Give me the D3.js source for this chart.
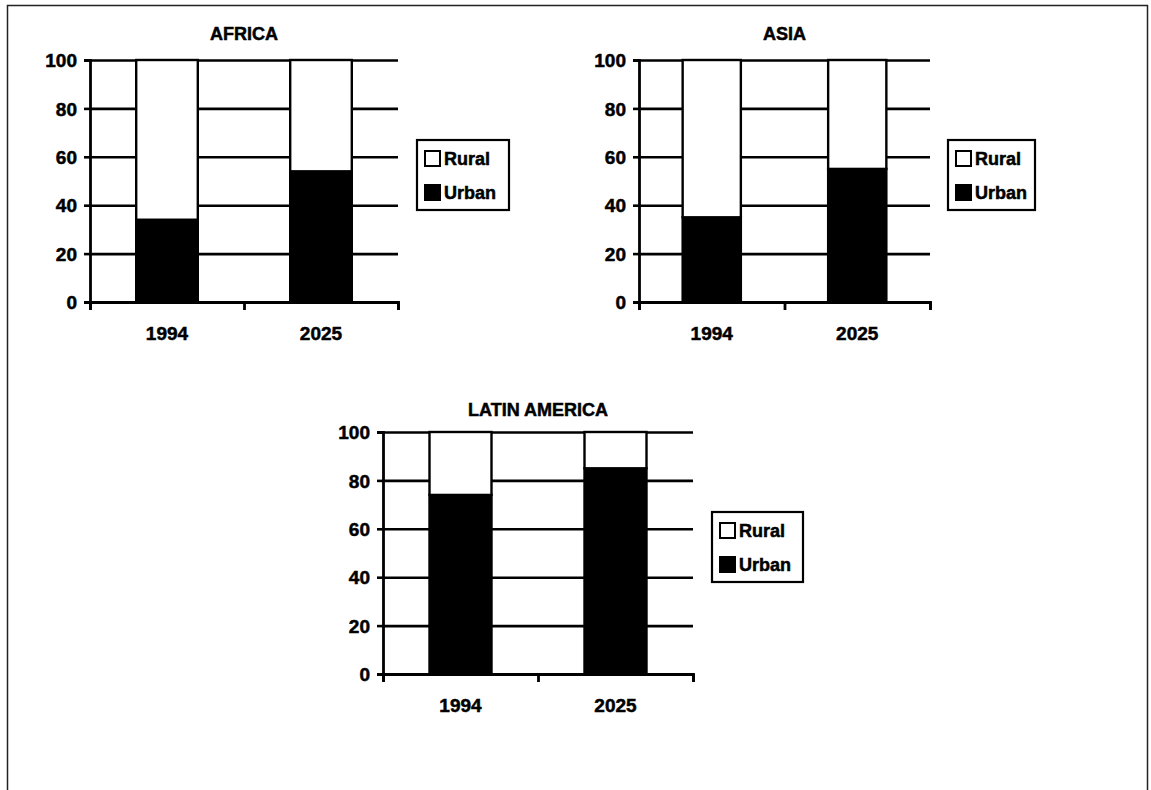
<!DOCTYPE html>
<html>
<head>
<meta charset="utf-8">
<script src="https://cdn.jsdelivr.net/npm/d3@7"></script>
<style>
  body { margin: 0; background: #fff; }
  text { font-family: "Liberation Sans", Arial, sans-serif; font-weight: bold; fill: #000; stroke: #000; stroke-width: 0.5px; }
</style>
</head>
<body>
<div id="chart"></div>
<script>
// values (percent of population)
var years = ["1994", "2025"];
var seriesNames = ["Rural", "Urban"];
var yTicks = [0, 20, 40, 60, 80, 100];

var africaUrban = [34, 54];
var africaRural = [66, 46];
var asiaUrban = [35, 55];
var asiaRural = [65, 45];
var latinUrban = [74, 85];
var latinRural = [26, 15];

// layout of the three panels
var panels = [
  { title: "AFRICA", urban: africaUrban, rural: africaRural,
    x0: 90, x1: 398, top: 60, bottom: 302, titleY: 34, legX: 417, legY: 140, legW: 92 },
  { title: "ASIA", urban: asiaUrban, rural: asiaRural,
    x0: 639, x1: 930, top: 60, bottom: 302, titleY: 34, legX: 948, legY: 140, legW: 87 },
  { title: "LATIN AMERICA", urban: latinUrban, rural: latinRural,
    x0: 383, x1: 693, top: 432, bottom: 674, titleY: 410, legX: 712, legY: 512, legW: 91 }
];

var svgWidth = 1151, svgHeight = 790;

var svg = d3.select("#chart")
  .append("svg")
  .attr("width", svgWidth)
  .attr("height", svgHeight);

// outer frame
svg.append("rect")
  .attr("x", 7.5).attr("y", 5.5)
  .attr("width", 1140).attr("height", 800)
  .attr("fill", "none")
  .attr("stroke", "#222")
  .attr("stroke-width", 1.5);

function drawPanel(p) {
  var g = svg.append("g");
  var w = p.x1 - p.x0;

  var yScale = d3.scaleLinear().domain([0, 100]).range([p.bottom, p.top]);
  var xBand = d3.scaleBand().domain(years).range([p.x0, p.x1]).paddingInner(0.6).paddingOuter(0.3);
  var xEdge = d3.scaleLinear().domain([0, years.length]).range([p.x0, p.x1]);

  // gridlines
  var grid = g.append("g")
    .attr("transform", `translate(${p.x0},0)`)
    .call(d3.axisLeft(yScale).tickValues(yTicks).tickSizeInner(-w).tickSizeOuter(0).tickFormat(""));
  grid.select(".domain").remove();
  grid.selectAll("line").attr("stroke", "#000").attr("stroke-width", 2.6);

  // stacked bars (urban at the bottom)
  var rows = years.map(function(y, i) {
    return { year: y, Rural: p.rural[i], Urban: p.urban[i] };
  });
  var layers = d3.stack().keys(["Urban", "Rural"])(rows);

  g.selectAll(".layer")
    .data(layers)
    .enter()
    .append("g")
    .attr("fill", d => d.key == "Urban" ? "#000" : "#fff")
    .selectAll("rect")
    .data(d => d)
    .enter()
    .append("rect")
    .attr("x", d => xBand(d.data.year))
    .attr("y", d => yScale(d[1]))
    .attr("width", xBand.bandwidth())
    .attr("height", d => yScale(d[0]) - yScale(d[1]))
    .attr("stroke", "#000")
    .attr("stroke-width", 2.4);

  // y axis with ticks and labels
  var yAxis = g.append("g")
    .attr("transform", `translate(${p.x0},0)`)
    .call(d3.axisLeft(yScale).tickValues(yTicks).tickSize(6).tickPadding(7));
  yAxis.select(".domain").attr("stroke", "#000").attr("stroke-width", 2.8);
  yAxis.selectAll("line").attr("stroke", "#000").attr("stroke-width", 2.6);
  yAxis.selectAll("text").style("font-size", "19px")
    .attr("font-family", null).attr("fill", null).attr("dy", "0.35em");

  // x axis: ticks on the category edges, labels in the middle
  var xAxis = g.append("g")
    .attr("transform", `translate(0,${p.bottom})`)
    .call(d3.axisBottom(xEdge).ticks(years.length).tickSize(8).tickSizeOuter(8).tickFormat(""));
  xAxis.select(".domain").attr("stroke", "#000").attr("stroke-width", 2.8);
  xAxis.selectAll("line").attr("stroke", "#000").attr("stroke-width", 2.8);

  g.selectAll(".year")
    .data(years)
    .enter()
    .append("text")
    .attr("x", d => xBand(d) + xBand.bandwidth() / 2)
    .attr("y", p.bottom + 31)
    .attr("dy", "0.35em")
    .style("text-anchor", "middle")
    .style("font-size", "19px")
    .text(d => d);

  // title
  g.append("text")
    .attr("x", (p.x0 + p.x1) / 2)
    .attr("y", p.titleY)
    .attr("dy", "0.35em")
    .style("text-anchor", "middle")
    .style("font-size", "18px")
    .text(p.title);

  // legend
  var leg = g.append("g").attr("transform", `translate(${p.legX},${p.legY})`);
  leg.append("rect")
    .attr("width", p.legW).attr("height", 70)
    .attr("fill", "#fff").attr("stroke", "#000").attr("stroke-width", 2.2);
  seriesNames.forEach(function(name, i) {
    var cy = 19 + i * 34;
    leg.append("rect")
      .attr("x", 8).attr("y", cy - 8)
      .attr("width", 15).attr("height", 15)
      .attr("fill", name == "Urban" ? "#000" : "#fff")
      .attr("stroke", "#000").attr("stroke-width", 2);
    leg.append("text")
      .attr("x", 27).attr("y", cy)
      .attr("dy", "0.35em")
      .style("font-size", "18px")
      .text(name);
  });
}

panels.forEach(drawPanel);
</script>
</body>
</html>
